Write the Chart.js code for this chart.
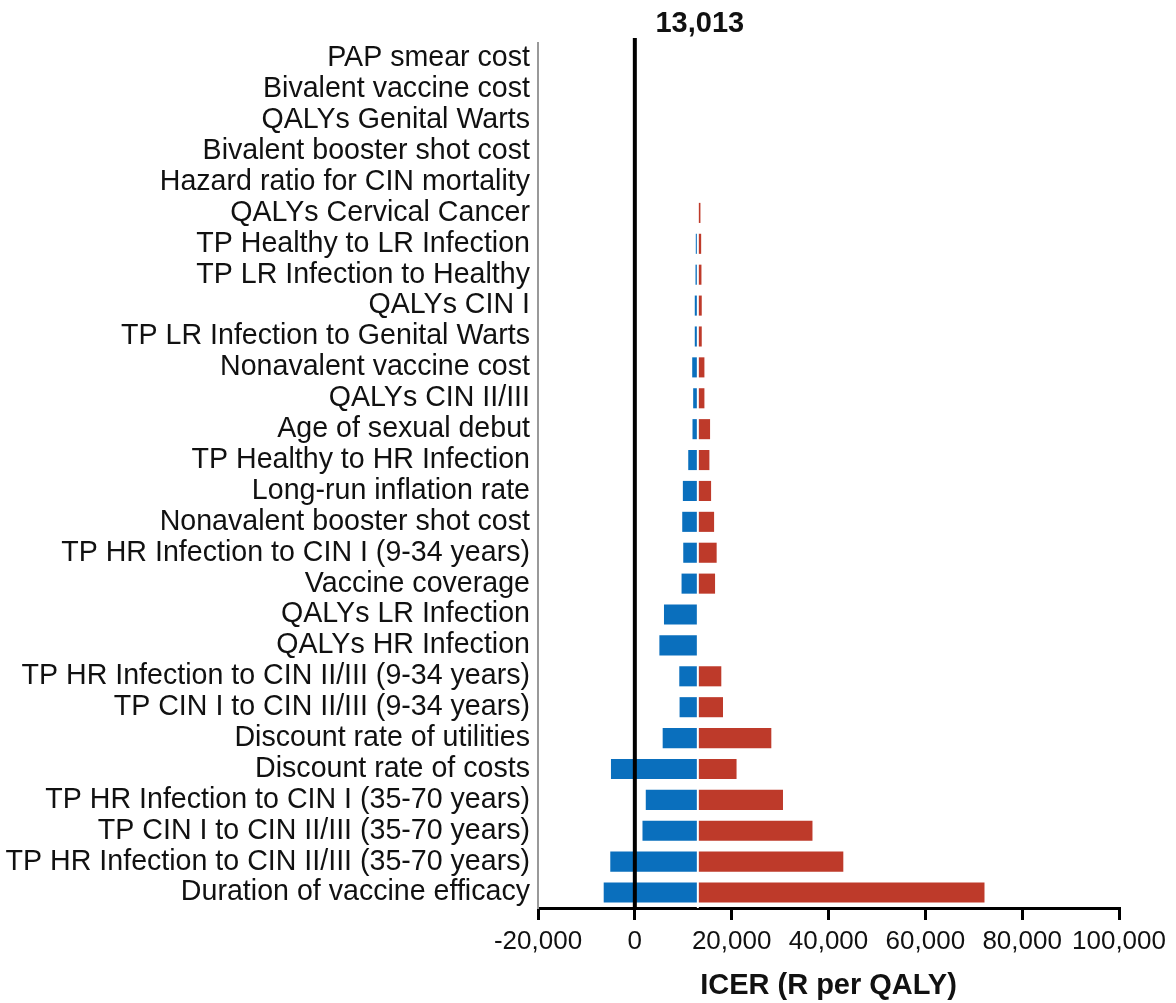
<!DOCTYPE html>
<html>
<head>
<meta charset="utf-8">
<script src="https://cdn.jsdelivr.net/npm/chart.js@4.4.0/dist/chart.umd.min.js"></script>
<style>
  html, body { margin: 0; padding: 0; background: #fff; }
</style>
</head>
<body>
<canvas id="tornado" width="1176" height="1003"></canvas>
<script>
// valor base del ICER
const baseICER = 13013;

const parametros = [
  "PAP smear cost",
  "Bivalent vaccine cost",
  "QALYs Genital Warts",
  "Bivalent booster shot cost",
  "Hazard ratio for CIN mortality",
  "QALYs Cervical Cancer",
  "TP Healthy to LR Infection",
  "TP LR Infection to Healthy",
  "QALYs CIN I",
  "TP LR Infection to Genital Warts",
  "Nonavalent vaccine cost",
  "QALYs CIN II/III",
  "Age of sexual debut",
  "TP Healthy to HR Infection",
  "Long-run inflation rate",
  "Nonavalent booster shot cost",
  "TP HR Infection to CIN I (9-34 years)",
  "Vaccine coverage",
  "QALYs LR Infection",
  "QALYs HR Infection",
  "TP HR Infection to CIN II/III (9-34 years)",
  "TP CIN I to CIN II/III (9-34 years)",
  "Discount rate of utilities",
  "Discount rate of costs",
  "TP HR Infection to CIN I (35-70 years)",
  "TP CIN I to CIN II/III (35-70 years)",
  "TP HR Infection to CIN II/III (35-70 years)",
  "Duration of vaccine efficacy"
];

// extremo izquierdo (azul) y derecho (rojo) de cada barra
const icerBajo = [
  null, null, null, null, null, null,
  12590, 12530, 12380, 12380, 11850, 12050, 11910, 11030,
  9920, 9790, 10000, 9650, 6020, 5070, 9180, 9240,
  5750, -4930, 2260, 1580, -5070, -6430
];
const icerAlto = [
  null, null, null, null, null, 13550,
  13700, 13760, 13820, 13820, 14370, 14370, 15540, 15400,
  15750, 16370, 16900, 16570, null, null, 17860, 18210,
  28190, 21010, 30600, 36690, 43060, 72220
];

const ticksX = [-20000, 0, 20000, 40000, 60000, 80000, 100000];

const azul = "#0a6fbd";
const rojo = "#be3a2a";
const fuente = "'Liberation Sans', Arial, sans-serif";

const barrasAzules = icerBajo.map(v => v === null ? null : [v, baseICER]);
const barrasRojas = icerAlto.map(v => v === null ? null : [baseICER, v]);

// lineas extra: cero, separador blanco y etiqueta del valor base
const lineasExtra = {
  id: 'lineasExtra',
  afterDatasetsDraw(chart) {
    const { ctx, chartArea, scales } = chart;
    const x0 = scales.x.getPixelForValue(0);
    const xb = scales.x.getPixelForValue(baseICER);
    ctx.save();
    ctx.strokeStyle = "#fff";
    ctx.lineWidth = 2;
    ctx.beginPath();
    ctx.moveTo(xb, chartArea.top);
    ctx.lineTo(xb, chartArea.bottom);
    ctx.stroke();
    ctx.strokeStyle = "#000";
    ctx.lineWidth = 4;
    ctx.beginPath();
    ctx.moveTo(x0, chartArea.top - 5);
    ctx.lineTo(x0, chartArea.bottom);
    ctx.stroke();
    ctx.fillStyle = "#111";
    ctx.font = "bold 29px " + fuente;
    ctx.textAlign = "center";
    ctx.textBaseline = "middle";
    ctx.fillText(baseICER.toLocaleString('en-US'), xb + 2, 24);
    ctx.restore();
  }
};

const ctx = document.getElementById('tornado').getContext('2d');
new Chart(ctx, {
  type: 'bar',
  data: {
    labels: parametros,
    datasets: [
      { label: 'Bajo', data: barrasAzules, backgroundColor: azul, grouped: false,
        barPercentage: 0.65, categoryPercentage: 1.0 },
      { label: 'Alto', data: barrasRojas, backgroundColor: rojo, grouped: false,
        barPercentage: 0.65, categoryPercentage: 1.0 }
    ]
  },
  options: {
    indexAxis: 'y',
    responsive: false,
    animation: false,
    devicePixelRatio: 1,
    layout: { padding: { top: 43, right: 57, left: 0, bottom: 0 } },
    plugins: {
      legend: { display: false },
      tooltip: { enabled: false }
    },
    scales: {
      x: {
        min: -20000,
        max: 100000,
        afterBuildTicks: axis => { axis.ticks = ticksX.map(v => ({ value: v })); },
        afterFit: s => { s.height = 95; },
        ticks: {
          color: "#111",
          font: { size: 26, family: fuente },
          padding: 6,
          maxRotation: 0,
          autoSkip: false,
          callback: v => Number(v).toLocaleString('en-US')
        },
        grid: { drawOnChartArea: false, drawTicks: true, tickLength: 12, color: "#000", lineWidth: 3 },
        border: { display: true, color: "#000", width: 3 },
        title: {
          display: true,
          text: "ICER (R per QALY)",
          color: "#111",
          font: { size: 29, weight: 'bold', family: fuente },
          padding: { top: 4, bottom: 0 }
        }
      },
      y: {
        afterFit: s => { s.width = 538; },
        ticks: {
          color: "#111",
          font: { size: 28.6, family: fuente },
          padding: 8,
          autoSkip: false
        },
        grid: { display: false, drawTicks: false },
        border: { display: true, color: "#999", width: 2 }
      }
    }
  },
  plugins: [lineasExtra]
});
</script>
</body>
</html>
